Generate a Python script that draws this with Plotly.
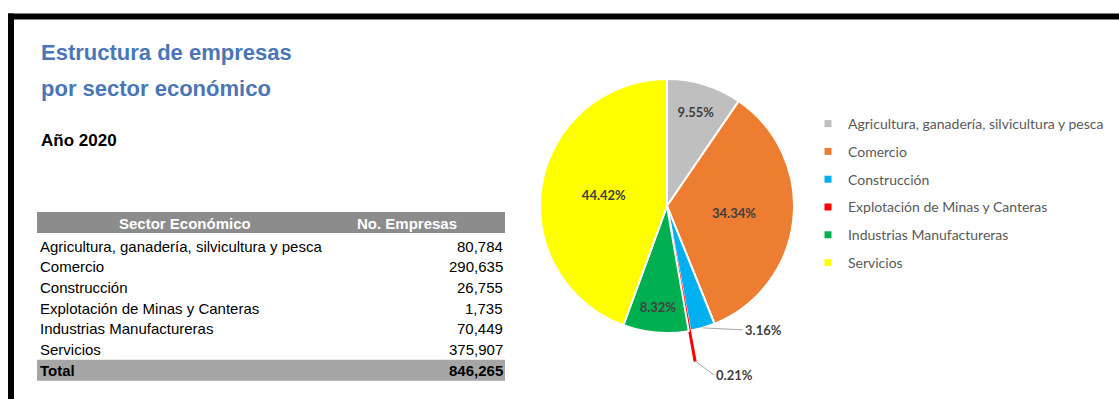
import math
import plotly.graph_objects as go

# ---- data ----
sectores = [
    "Agricultura, ganadería, silvicultura y pesca",
    "Comercio",
    "Construcción",
    "Explotación de Minas y Canteras",
    "Industrias Manufactureras",
    "Servicios",
]
empresas = [80784, 290635, 26755, 1735, 70449, 375907]
colores = ["#BFBFBF", "#ED7D31", "#00B0F0", "#FF0000", "#00B050", "#FFFF00"]
posicion_texto = ["inside", "inside", "none", "none", "inside", "inside"]
separacion = [0, 0, 0, 0.24, 0, 0]
borde = [2, 2, 2, 1.5, 2, 2]
color_borde = ["white", "white", "white", "#FF0000", "white", "white"]
encabezados = ["Sector Económico", "No. Empresas"]
titulo = ["Estructura de empresas", "por sector económico"]
subtitulo = "Año 2020"

# ---- page geometry (pixels) ----
W, H = 1119, 399


def px(x):
    return x / W


def py(y):
    return 1 - y / H


total = sum(empresas)

fig = go.Figure()

# pie: centre and radius in pixels; domain enlarged for the pulled slice
cx, cy, r = 667, 206, 127
half = r * (1 + max(separacion))
fig.add_trace(go.Pie(
    labels=sectores,
    values=empresas,
    sort=False,
    direction="clockwise",
    rotation=0,
    pull=separacion,
    marker=dict(colors=colores, line=dict(color=color_borde, width=borde)),
    texttemplate="%{percent:.2%}",
    textposition=posicion_texto,
    insidetextorientation="horizontal",
    textfont=dict(family="Lato", size=13, color="#404040", weight="bold"),
    showlegend=False,
    hoverinfo="label+value+percent",
    domain=dict(x=[px(cx - half), px(cx + half)],
                y=[py(cy + half), py(cy - half)]),
))

# legend entries (small square markers)
for i, (nombre, color) in enumerate(zip(sectores, colores)):
    fig.add_trace(go.Scatter(
        x=[None], y=[None], mode="markers", name=nombre,
        legendgroup=f"g{i}",
        marker=dict(symbol="square", size=7, color=color),
    ))

annotations = []
shapes = []

# labels for the thin slices, placed outside with leader lines
offsets = {2: (40, 2), 3: (19, 14)}
acum = 0
for i, v in enumerate(empresas):
    frac = v / total
    ang = (acum + frac / 2) * 2 * math.pi
    acum += frac
    if i in offsets:
        rr = r * (1 + separacion[i])
        hx = cx + rr * math.sin(ang)
        hy = cy - rr * math.cos(ang)
        dx, dy = offsets[i]
        annotations.append(dict(
            x=px(hx), y=py(hy), xref="paper", yref="paper",
            text=f"{frac * 100:.2f}%", showarrow=True,
            ax=dx, ay=dy, xanchor="left", yanchor="middle",
            arrowhead=0, arrowwidth=1, arrowcolor="#A6A6A6", standoff=0,
            font=dict(family="Lato", size=13, color="#404040", weight="bold"),
        ))

# title block
title_font = dict(family="Liberation Sans", size=22, color="#4A76B6", weight="bold")
for txt, y in zip(titulo, [53, 88]):
    annotations.append(dict(x=px(39), y=py(y), xref="paper", yref="paper",
                            text=txt, showarrow=False, xanchor="left",
                            yanchor="middle", font=title_font))
annotations.append(dict(x=px(39), y=py(140), xref="paper", yref="paper",
                        text=subtitulo, showarrow=False, xanchor="left",
                        yanchor="middle",
                        font=dict(family="Liberation Sans", size=17,
                                  color="black", weight="bold")))

# table
tx0, tx1 = 37, 505
row_h = 20.7
head_top = 212
shapes.append(dict(type="rect", xref="paper", yref="paper",
                   x0=px(tx0), x1=px(tx1), y0=py(head_top + 21), y1=py(head_top),
                   fillcolor="#8C8C8C", line=dict(width=0), layer="below"))
header_font = dict(family="Liberation Sans", size=15, color="white", weight="bold")
for txt, x in zip(encabezados, [185, 407]):
    annotations.append(dict(x=px(x), y=py(head_top + 11), xref="paper", yref="paper",
                            text=txt, showarrow=False, xanchor="center",
                            yanchor="middle", font=header_font))

body_font = dict(family="Liberation Sans", size=15, color="black")
first_row = 246
for i, (nombre, v) in enumerate(zip(sectores, empresas)):
    yc = first_row + i * row_h
    annotations.append(dict(x=px(38), y=py(yc), xref="paper", yref="paper",
                            text=nombre, showarrow=False, xanchor="left",
                            yanchor="middle", font=body_font))
    annotations.append(dict(x=px(505), y=py(yc), xref="paper", yref="paper",
                            text=f"{v:,}", showarrow=False, xanchor="right",
                            yanchor="middle", font=body_font))

yt = first_row + len(empresas) * row_h
shapes.append(dict(type="rect", xref="paper", yref="paper",
                   x0=px(tx0), x1=px(tx1), y0=py(yt + 10.5), y1=py(yt - 10.5),
                   fillcolor="#A6A6A6", line=dict(width=0), layer="below"))
total_font = dict(family="Liberation Sans", size=15, color="black", weight="bold")
annotations.append(dict(x=px(38), y=py(yt), xref="paper", yref="paper",
                        text="Total", showarrow=False, xanchor="left",
                        yanchor="middle", font=total_font))
annotations.append(dict(x=px(505), y=py(yt), xref="paper", yref="paper",
                        text=f"{total:,}", showarrow=False, xanchor="right",
                        yanchor="middle", font=total_font))

# black frame along top and left
shapes.append(dict(type="rect", xref="paper", yref="paper",
                   x0=px(8), x1=1, y0=py(19.5), y1=py(13.5),
                   fillcolor="black", line=dict(width=0)))
shapes.append(dict(type="rect", xref="paper", yref="paper",
                   x0=px(8), x1=px(14), y0=0, y1=py(13.5),
                   fillcolor="black", line=dict(width=0)))

fig.update_layout(
    width=W, height=H,
    margin=dict(l=0, r=0, t=0, b=0),
    paper_bgcolor="white", plot_bgcolor="white",
    xaxis=dict(visible=False), yaxis=dict(visible=False),
    showlegend=True,
    legend=dict(
        x=px(808), y=py(108), xanchor="left", yanchor="top",
        traceorder="grouped", tracegroupgap=6.6,
        font=dict(family="Lato", size=14, color="#595959"),
        bgcolor="rgba(0,0,0,0)",
    ),
    annotations=annotations,
    shapes=shapes,
)

fig.write_html("out.html")
